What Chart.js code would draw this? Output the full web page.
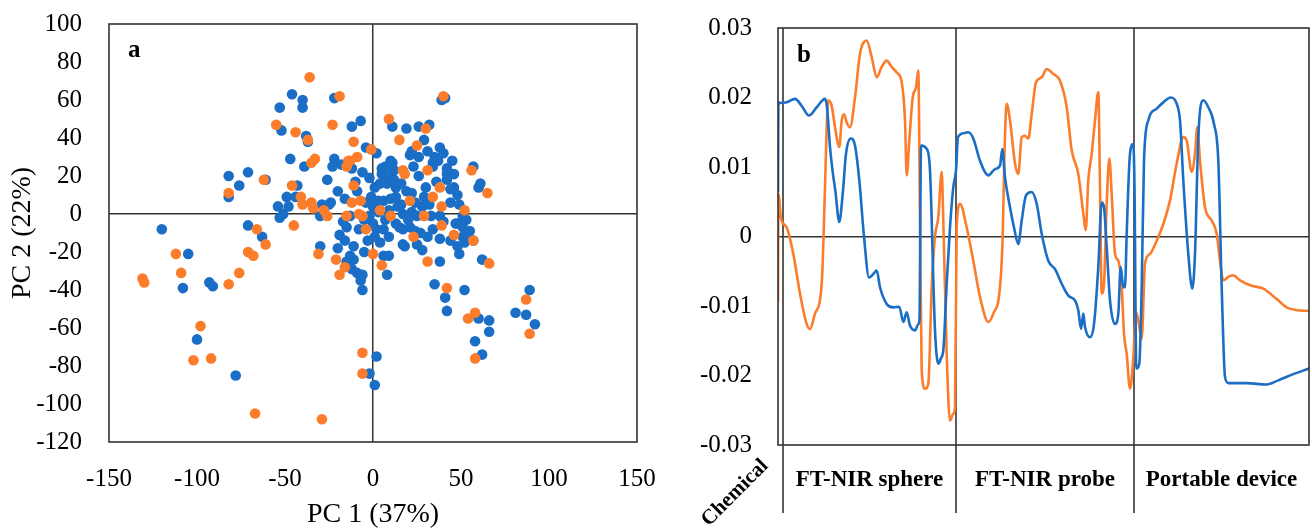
<!DOCTYPE html>
<html lang="en">
<head>
  <meta charset="UTF-8">
  <title>PCA scores and loadings</title>
  <script src="https://cdn.jsdelivr.net/npm/chart.js"></script>
  <style>
    body {
      margin: 0;
      background: #fff;
    }
    #wrap {
      position: relative;
      width: 1312px;
      height: 529px;
    }
    #scoresChart {
      position: absolute;
      left: 0;
      top: 0;
    }
    #loadingsChart {
      position: absolute;
      left: 660px;
      top: 0;
    }
  </style>
</head>
<body>
  <div id="wrap">
    <canvas id="scoresChart" width="660" height="529"></canvas>
    <canvas id="loadingsChart" width="652" height="529"></canvas>
  </div>

  <script>
    // panel a: PCA scores [PC1, PC2]
    const scoresBlue = [
      [-120,-8],[-105,-21],[-108,-39],[-93,-36],[-91,-38],[-100,-66],[-78,-85],
      [-82,20],[-71,22],[-76,15],[-82,9],[-61,18],[-71,-6],[-63,-12],
      [-53,56],[-46,63],[-40,60],[-40,56],[-52,44],[-38,41],[-37,38],
      [-47,29],[-39,25],[-43,15],[-26,18],[-49,9],[-44,9],[-54,4],[-48,4],[-51,0],[-53,-2],
      [-22,61],[-12,46],[-7,49],[-4,35],[-22,29],[-23,25],[-18,26],[-12,24],[-20,12],
      [-10,17],[-2,19],[1,14],[-16,8],[-24,6],[-27,4],[-30,-1],[-29,5],[-25,5],
      [-4,6],[0,4],[3,7],[6,7],[-13,-1],[-2,-1],[0,-5],[2,-8],[6,-8],
      [-15,-7],[-19,-11],[-16,-14],[-11,-17],[-30,-17],[-20,-18],
      [-13,-22],[-15,-25],[-11,-24],[-12,-29],[-9,-31],[-6,-32],[-7,-35],[-6,-40],
      [-5,-20],[6,-22],[9,-22],[8,-32],
      [2,-75],[-2,-84],[1,-90],
      [18,-17],[38,-25],[35,-37],[41,-44],[42,-51],[52,-40],
      [60,-55],[66,-56],[66,-62],[58,-67],[62,-74],[62,-24],
      [81,-52],[87,-53],[92,-58],[89,-40],
      [41,61],[39,60],[11,46],[19,45],[26,46],[32,47],[29,39],[22,33],[21,31],[2,32],
      [38,35],[40,32],[35,30],[37,28],[45,28],[42,24],[34,25],[34,27],[42,21],[46,21],[57,25],
      [7,25],[10,28],[12,23],[5,21],[8,20],[5,24],[11,27],[4,16],[23,25],
      [8,16],[13,14],[16,16],[19,12],[22,11],[13,9],
      [42,18],[46,14],[48,10],[44,13],[61,16],[60,14],
      [29,9],[24,6],[28,4],[32,5],[49,5],[51,-1],[38,-1],[33,-1],
      [25,-1],[22,1],[17,0],[14,4],
      [13,-5],[17,-8],[15,-7],[21,-7],[24,-9],[17,-16],[25,-16],[28,-19],
      [34,-8],[38,-13],[48,-5],[51,-7],[54,-10],[51,-12],[52,-15],[48,-17],[49,-21],
      [47,-5],[55,-9],[57,-14],
      [-1,9],[3,1],[7,-3],[-5,-3],[1,-12],[4,-15],[-8,-8],[10,8],[9,-12],
      [12,18],[26,20],[30,14],[36,17],[44,6],[40,-4],[20,-3],[27,-10],[31,-12],
      [-9,12],[-6,22],[-17,-4],[-3,-14],[9,2],[16,5],[26,30],[31,33],[53,-3],[44,-14]
    ];
    const scoresOrange = [
      [-36,72],[-19,62],[-55,47],[-44,43],[-37,39],[-23,47],[-11,38],[-1,34],
      [-35,27],[-33,29],[-14,28],[-15,25],[-9,30],[-13,28],
      [-82,11],[-62,18],[-46,15],[-41,9],[-35,6],[-28,2],
      [-66,-8],[-61,-16],[-45,-6],
      [-112,-21],[-71,-20],[-68,-22],[-109,-31],[-130,-36],[-131,-34],
      [-82,-37],[-76,-31],[-98,-59],[-102,-77],[-92,-76],[-67,-105],[-29,-108],
      [-31,-21],[-21,-24],[-19,-32],[-16,-28],[-6,-73],[-6,-84],[0,-21],[5,-27],
      [31,-25],[42,-39],[54,-55],[58,-52],[58,-76],[66,-26],[89,-63],[87,-45],
      [40,62],[9,50],[30,45],[15,39],[25,36],[56,23],[65,11],[17,23],[18,21],[31,23],
      [38,14],[34,9],[39,4],[52,2],[57,-14],[39,-6],[46,-11],[21,7],[10,-1],[23,-12],[29,-1],
      [4,2],[-7,7],[-12,6],[-26,-1],[-34,3],[-40,5],[-15,-1],[-8,0],[-6,-1],[-4,-8],[-11,15]
    ];
    const pc1Ticks = [-150, -100, -50, 0, 50, 100, 150];
    const pc2Ticks = [-120, -100, -80, -60, -40, -20, 0, 20, 40, 60, 80, 100];

    // panel b: loadings [variable position, loading]
    const loadingsBlue = [
      [0,0.0064],[0.4,0.0193],[2,0.0192],[8.7,0.0193],[17,0.0198],[23.7,0.0188],[31,0.0174],
      [38.7,0.0186],[47,0.0198],[49,0.0186],[52,0.0129],[54.7,0.0093],[57.3,0.0066],[61.3,0.0021],
      [64.7,0.0061],[68,0.0119],[72.7,0.0141],[77,0.0131],[81.3,0.0081],[86,0],[91,-0.0059],
      [95.3,-0.0054],[98.7,-0.0049],[102,-0.0073],[108.7,-0.0097],[115.3,-0.0102],[121.3,-0.0101],
      [125.3,-0.0123],[128.7,-0.0109],[132,-0.0128],[137,-0.0135],[140.3,-0.0126],[141.5,-0.012],
      [143,0.0131],[148.7,0.0126],[152,0.0095],[157,-0.0135],[160.3,-0.0183],[163,-0.0175],
      [165.3,-0.0164],[168.7,-0.0068],[172,0.0013],[175.3,0.0071],[178,0.0095],[180,0.0143],
      [187,0.0149],[190.3,0.015],[195.3,0.0141],[202,0.0109],[210.3,0.0088],[217,0.0097],
      [222,0.0102],[224.3,0.0126],[227,0.0085],[232,0.0042],[236,0.0013],[240.3,-0.0011],
      [243.7,0.0023],[248,0.0059],[253.7,0.0064],[258.7,0.0047],[263.7,0.0004],[270.3,-0.0035],
      [277,-0.0047],[283.7,-0.0068],[290.3,-0.0085],[297,-0.0092],[300.3,-0.0106],[303,-0.0133],
      [305.3,-0.0111],[307,-0.013],[312,-0.0145],[316,-0.0126],[320.3,-0.0044],[323.7,0.0049],
      [326,0.0042],[328.7,-0.0015],[332,-0.0092],[337,-0.0126],[340.3,-0.0111],[342.7,-0.0044],
      [345.3,-0.0073],[347,-0.0073],[348.7,0.0004],[352,0.0119],[355.3,0.0133],[356.5,0.0071],
      [358.3,-0.019],[361.3,-0.0183],[363.7,-0.0073],[366,0.0109],[370.3,0.0167],[378.7,0.0184],
      [385.3,0.0193],[392.7,0.02],[398.7,0.0191],[402,0.0167],[405.3,0.0081],[410.3,-0.0025],
      [414.3,-0.0075],[417,-0.0025],[420.3,0.0143],[425.3,0.0196],[430.3,0.0186],[436,0.0162],
      [440.3,0.0109],[443.7,-0.0073],[447,-0.0202],[450.3,-0.0211],[468.7,-0.0211],
      [488.7,-0.0213],[500.3,-0.0207],[515.3,-0.0198],[531,-0.019]
    ];
    const loadingsOrange = [
      [0,-0.0094],[0.4,0.0061],[3,0.0026],[8.7,0.0013],[15.3,-0.0025],[22,-0.0082],[28.7,-0.0126],
      [32,-0.0133],[37,-0.0111],[43.7,-0.0068],[47,0.0071],[48.7,0.0157],[50.3,0.0196],[53.7,0.0188],
      [57,0.0157],[61.3,0.0129],[63.7,0.0167],[66,0.0176],[68.7,0.0164],[72,0.0157],[77,0.02],
      [82,0.0263],[88.7,0.0282],[93.7,0.0258],[98.7,0.0229],[103.7,0.0244],[108.7,0.0253],
      [113.7,0.0244],[118.7,0.0236],[123.7,0.0222],[127,0.0167],[128.7,0.0088],[131.3,0.0138],
      [134.7,0.02],[138,0.0215],[140.3,0.0239],[142,0.0023],[143.7,-0.0193],[147,-0.0219],
      [150.3,-0.0212],[153.7,-0.0073],[157,0],[160.3,0.0028],[163.7,0.0093],[165.3,0.0023],
      [168.7,-0.0169],[172,-0.0265],[175.3,-0.0255],[177,-0.0246],[178.7,0.0013],[182,0.0047],
      [188.7,0.0013],[195.3,-0.0035],[202,-0.0087],[210.3,-0.0123],[215.3,-0.0111],[222,-0.0073],
      [224.7,0],[226.3,0.0109],[228.7,0.0191],[232,0.0167],[237,0.0105],[240.3,0.009],
      [243.7,0.0143],[247,0.0145],[250.3,0.0141],[253.7,0.0176],[258,0.0222],[263.7,0.0229],
      [268.7,0.0241],[275.3,0.0234],[282,0.0224],[288.7,0.0186],[293.7,0.0124],[300.3,0.009],
      [305.3,0.0033],[307.7,0.0009],[310.3,0.0081],[313.7,0.0119],[317,0.0167],[320.3,0.0208],
      [322,0.0071],[323.7,-0.0082],[326,-0.0068],[328.7,0.0047],[331.3,0.0112],[333.7,0.0061],
      [337,-0.0025],[340.3,-0.0035],[343.7,-0.0073],[346,-0.014],[348.7,-0.0169],[352,-0.0219],
      [355.3,-0.0175],[358,-0.0109],[360.3,-0.0121],[363.7,-0.0147],[367,-0.0039],[372,-0.0025],
      [378.7,-0.0006],[385.3,0.0018],[392,0.0052],[398.7,0.0105],[405.3,0.0143],[408.7,0.0138],
      [413.7,0.0093],[417,0.0119],[419.3,0.0157],[422,0.0109],[427,0.0042],[433.7,0.0023],
      [438.7,0.0004],[442,-0.0035],[445.3,-0.0063],[450.3,-0.0058],[455.3,-0.0056],[462,-0.0063],
      [473.7,-0.0071],[485.3,-0.0075],[498.7,-0.009],[508.7,-0.0102],[518.7,-0.0106],[531,-0.0107]
    ];
    const loadTicks = [-0.03, -0.02, -0.01, 0, 0.01, 0.02, 0.03];
    const loadTickLabels = ['-0.03', '-0.02', '-0.01', '0', '0.01', '0.02', '0.03'];
    const segmentNames = ['Chemical', 'FT-NIR sphere', 'FT-NIR probe', 'Portable device'];
    const segmentBounds = [0, 5, 178, 356, 531];

    const BLUE = '#1b6ec6';
    const ORANGE = '#fb7d2b';
    const LINE = '#333333';
    const SERIF = "'Liberation Serif', 'Times New Roman', serif";

    Chart.defaults.font.family = SERIF;
    Chart.defaults.color = '#000';

    const toXY = arr => arr.map(p => ({ x: p[0], y: p[1] }));

    function zeroGrid(ctx) {
      return ctx.tick && ctx.tick.value === 0 ? LINE : 'rgba(0,0,0,0)';
    }

    // fixed axis boxes, no extra room for overhanging labels
    function fixBox(size) {
      return s => {
        if (s.isHorizontal()) s.height = size; else s.width = size;
        s.paddingLeft = s.paddingRight = s.paddingTop = s.paddingBottom = 0;
      };
    }

    // plot frame + panel letter
    const framePlugin = {
      id: 'frame',
      afterDraw(chart, args, opts) {
        const { ctx, chartArea: a } = chart;
        ctx.save();
        ctx.strokeStyle = LINE;
        ctx.lineWidth = 1.6;
        ctx.strokeRect(a.left, a.top, a.right - a.left, a.bottom - a.top);
        ctx.fillStyle = '#000';
        ctx.font = 'bold 25px ' + SERIF;
        ctx.textAlign = 'left';
        ctx.textBaseline = 'alphabetic';
        ctx.fillText(opts.letter, a.left + 19, a.top + opts.letterDy);
        ctx.restore();
      }
    };

    // separators and block names under panel b
    const segmentPlugin = {
      id: 'segments',
      beforeDatasetsDraw(chart) {
        const { ctx, chartArea: a, scales: { x } } = chart;
        ctx.save();
        ctx.strokeStyle = LINE;
        ctx.lineWidth = 1.6;
        segmentBounds.slice(1, -1).forEach(v => {
          const px = x.getPixelForValue(v);
          ctx.beginPath();
          ctx.moveTo(px, a.top);
          ctx.lineTo(px, a.bottom + 68);
          ctx.stroke();
        });
        ctx.restore();
      },
      afterDraw(chart) {
        const { ctx, chartArea: a, scales: { x } } = chart;
        ctx.save();
        ctx.fillStyle = '#000';
        ctx.textBaseline = 'middle';
        ctx.textAlign = 'center';
        ctx.font = 'bold 23px ' + SERIF;
        for (let i = 1; i < segmentNames.length; i++) {
          const mid = (segmentBounds[i] + segmentBounds[i + 1]) / 2;
          ctx.fillText(segmentNames[i], x.getPixelForValue(mid), a.bottom + 35);
        }
        // first block is too narrow, its name is slanted
        ctx.font = 'bold 21px ' + SERIF;
        ctx.translate(x.getPixelForValue(segmentBounds[0]) - 43, a.bottom + 48);
        ctx.rotate(-Math.PI / 4);
        ctx.fillText(segmentNames[0], 0, 0);
        ctx.restore();
      }
    };

    new Chart(document.getElementById('scoresChart'), {
      type: 'scatter',
      data: {
        datasets: [
          {
            label: 'orange',
            data: toXY(scoresOrange),
            backgroundColor: ORANGE,
            pointRadius: 5.3,
            pointBorderWidth: 0,
            order: 0
          },
          {
            label: 'blue',
            data: toXY(scoresBlue),
            backgroundColor: BLUE,
            pointRadius: 5.3,
            pointBorderWidth: 0,
            order: 1
          }
        ]
      },
      options: {
        responsive: false,
        animation: false,
        layout: { padding: { top: 24, right: 23, left: 0, bottom: 0 } },
        plugins: {
          legend: { display: false },
          tooltip: { enabled: false },
          frame: { letter: 'a', letterDy: 33 }
        },
        scales: {
          x: {
            min: -150,
            max: 150,
            afterBuildTicks: s => { s.ticks = pc1Ticks.map(v => ({ value: v })); },
            afterFit: fixBox(87),
            ticks: { font: { size: 25 }, padding: 22, maxRotation: 0 },
            grid: { drawTicks: false, color: zeroGrid, lineWidth: 1.5 },
            border: { display: false },
            title: {
              display: true,
              text: 'PC 1 (37%)',
              font: { size: 28, lineHeight: 1 },
              padding: { top: 0, bottom: 0 }
            }
          },
          y: {
            min: -120,
            max: 100,
            afterBuildTicks: s => { s.ticks = pc2Ticks.map(v => ({ value: v })); },
            afterFit: fixBox(109),
            ticks: { font: { size: 25 }, padding: 27 },
            grid: { drawTicks: false, color: zeroGrid, lineWidth: 1.5 },
            border: { display: false },
            title: {
              display: true,
              text: 'PC 2 (22%)',
              font: { size: 28, lineHeight: 1 },
              padding: { top: 9, bottom: 0 }
            }
          }
        }
      },
      plugins: [framePlugin]
    });

    new Chart(document.getElementById('loadingsChart'), {
      type: 'line',
      data: {
        datasets: [
          {
            label: 'blue',
            data: toXY(loadingsBlue),
            borderColor: BLUE,
            borderWidth: 2.6,
            pointRadius: 0,
            cubicInterpolationMode: 'monotone'
          },
          {
            label: 'orange',
            data: toXY(loadingsOrange),
            borderColor: ORANGE,
            borderWidth: 2.6,
            pointRadius: 0,
            cubicInterpolationMode: 'monotone'
          }
        ]
      },
      options: {
        responsive: false,
        animation: false,
        layout: { padding: { top: 28, right: 3, left: 0, bottom: 84 } },
        plugins: {
          legend: { display: false },
          tooltip: { enabled: false },
          frame: { letter: 'b', letterDy: 34 }
        },
        scales: {
          x: {
            type: 'linear',
            min: segmentBounds[0],
            max: segmentBounds[segmentBounds.length - 1],
            display: false
          },
          y: {
            min: -0.03,
            max: 0.03,
            afterBuildTicks: s => { s.ticks = loadTicks.map(v => ({ value: v })); },
            afterFit: fixBox(118),
            ticks: {
              font: { size: 25 },
              padding: 26,
              callback: (v, i) => loadTickLabels[i]
            },
            grid: { drawTicks: false, color: zeroGrid, lineWidth: 1.5 },
            border: { display: false }
          }
        }
      },
      plugins: [framePlugin, segmentPlugin]
    });
  </script>
</body>
</html>
